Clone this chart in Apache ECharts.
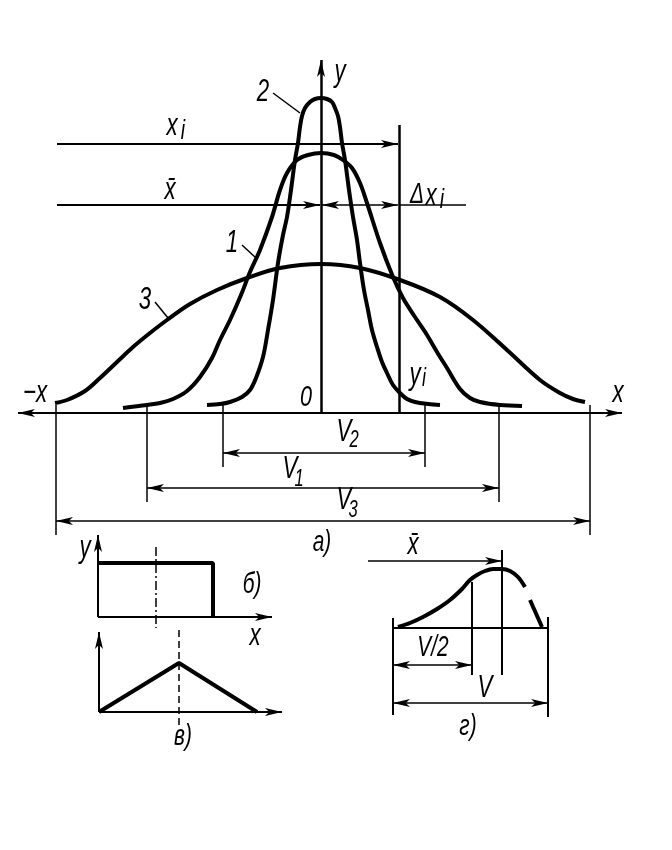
<!DOCTYPE html>
<html>
<head>
<meta charset="utf-8">
<style>
  html, body { margin: 0; background: #fff; }
  #main { width: 672px; height: 850px; }
</style>
<script src="https://cdn.jsdelivr.net/npm/echarts/dist/echarts.min.js"></script>
</head>
<body>
<div id="main"></div>
<script>
// figure a): units measured from the crossing of the axes, y up
const curve1 = [[-198,5],[-174,8],[-161,10],[-148,14],[-134,22],[-121,36],[-109,55],[-101,73],[-91,93],[-80,118],[-71,141],[-61,163],[-49,196],[-41,223],[-34,240],[-24,253],[-13,258],[0,260],[13,258],[22,253],[31,245],[39,230],[46,210],[59,170],[72,136],[82,115],[94,96],[106,78],[116,61],[126,45],[139,24],[149,15],[159,11],[179,8],[201,7]];
const curve2 = [[-114,8],[-101,9],[-91,11],[-79,16],[-71,23],[-65,35],[-58,56],[-53,83],[-48,113],[-43,150],[-38,178],[-34,196],[-30,223],[-26,253],[-23,270],[-21,286],[-19,297],[-16,305],[-11,311],[-6,314],[0,315],[6,314],[11,311],[14,305],[17,297],[19,286],[21,270],[24,253],[28,223],[32,196],[36,173],[39,150],[43,123],[47,103],[51,83],[56,66],[61,51],[66,40],[72,28],[79,20],[86,14],[94,11],[107,9],[119,8]];
const curve3 = [[-266,10],[-254,13],[-236,22],[-221,35],[-204,51],[-188,66],[-171,80],[-154,93],[-131,109],[-104,123],[-74,135],[-41,145],[0,149],[39,145],[79,133],[119,116],[152,93],[186,63],[219,33],[239,20],[252,14],[264,11]];

const xi = 78;           // position of the point x_i
const xiLevel = 269;     // height of the x_i arrow
const meanLevel = 208;   // height of the x-bar arrow
const yiTop = 288;
const spans = [          // name, left end, right end, arrow level, extension bottom
  ['V2', -98, 104, -40, -54],
  ['V1', -174, 178, -75, -89],
  ['V3', -265, 269, -108, -122]
];

// figure б): uniform law
const rectB = [[0,54],[115,54],[115,0]];
const centerB = 58;
// figure в): triangle law
const triV = [[0,0],[80,49],[158,0]];
// figure г): asymmetric curve
const curveG = [[5,1],[17,5],[30,11],[44,19],[57,28],[69,39],[77,48],[84,53],[92,57],[100,59],[109,59],[117,57],[125,51],[132,41]];
const tailG = [[137,28],[149,1]];
const widthG = 155, halfG = 79, meanG = 109;

// text: x, y (figure a units), text, size
const labels = [
  [19, 341, 'y', 31], [-58, 321, '2', 31],
  [-149, 287, 'x', 31], [-138, 282, 'i', 27],
  [-151, 223, 'x\u0304', 31],
  [96, 218, '\u0394', 29], [110, 217, 'x', 31], [121, 213, 'i', 27],
  [-89, 170, '1', 31], [-176, 113, '3', 31],
  [-286, 20, '\u2212x', 31], [-15, 15, '0', 30],
  [94, 38, 'y', 31], [103, 34, 'i', 25],
  [297, 20, 'x', 31],
  [23, -19, 'V', 31], [33, -28, '2', 23],
  [-31, -56, 'V', 31], [-22, -67, '1', 23],
  [23, -87, 'V', 31], [32, -98, '3', 23],
  [1, -130, '\u0430)', 29],
  [-236, -135, 'y', 31], [-69, -172, '\u0431)', 29], [-66, -223, 'x', 31],
  [-138, -324, '\u0432)', 29],
  [92, -132, 'x\u0304', 31], [112, -235, 'V/2', 29], [164, -275, 'V', 31], [147, -314, '\u0433)', 29]
];

const W = 672, H = 850;
// origins of the four figures on the page
const origins = [[321, 413], [98, 617], [99, 712], [393, 628]];

const grids = origins.map(() => ({ left: 0, top: 0, width: W, height: H }));
const xAxes = origins.map((o, i) => ({ type: 'value', gridIndex: i, min: -o[0], max: W - o[0], show: false }));
const yAxes = origins.map((o, i) => ({ type: 'value', gridIndex: i, min: o[1] - H, max: o[1], show: false }));

const ARROW = [6, 17];

function curve(g, data, width, extra) {
  return Object.assign({
    type: 'line', xAxisIndex: g, yAxisIndex: g, data: data, smooth: 0.35,
    symbol: 'none', silent: true, animation: false,
    lineStyle: { color: '#000', width: width }
  }, extra || {});
}

function segs(g, list, width, ends, extraStyle) {
  return {
    type: 'lines', coordinateSystem: 'cartesian2d', xAxisIndex: g, yAxisIndex: g,
    symbol: ends, symbolSize: [ARROW, ARROW], silent: true, animation: false,
    lineStyle: Object.assign({ color: '#000', width: width, opacity: 1 }, extraStyle || {}),
    data: list.map(c => ({ coords: c }))
  };
}

const series = [
  curve(0, curve1, 4), curve(0, curve2, 4), curve(0, curve3, 4),
  // axes
  segs(0, [[[-303, 0], [301, 0]]], 2, ['arrow', 'arrow']),
  segs(0, [[[0, 0], [0, 353]]], 2.5, ['none', 'arrow']),
  // x_i and x-bar
  segs(0, [[[-264, xiLevel], [xi - 1, xiLevel]], [[-264, meanLevel], [-1, meanLevel]]], 1.8, ['none', 'arrow']),
  segs(0, [[[1, meanLevel], [xi - 1, meanLevel]]].concat(spans.map(s => [[s[1], s[3]], [s[2], s[3]]])), 1.5, ['arrow', 'arrow']),
  segs(0, [[[xi, 0], [xi, yiTop]]], 2.5, ['none', 'none']),
  segs(0, [[[xi, meanLevel], [145, meanLevel]]].concat(
    spans.map(s => [[s[1], 8], [s[1], s[4]]]),
    spans.map(s => [[s[2], 8], [s[2], s[4]]]),
    [[[-48, 320], [-21, 300]], [[-79, 168], [-65, 155]], [[-166, 111], [-153, 95]]]
  ), 1.5, ['none', 'none']),

  // б)
  segs(1, [[[0, 0], [0, 82]], [[0, 0], [174, 0]]], 2, ['none', 'arrow']),
  curve(1, rectB, 4, { smooth: false }),
  segs(1, [[[centerB, 70], [centerB, -11]]], 1.5, ['none', 'none'], { type: [9, 3, 2, 3] }),

  // в)
  segs(2, [[[0, 0], [0, 80]], [[0, 0], [183, 0]]], 2, ['none', 'arrow']),
  curve(2, triV, 4, { smooth: false }),
  segs(2, [[[80, 82], [80, -15]]], 1.5, ['none', 'none'], { type: [7, 4] }),

  // г)
  curve(3, curveG, 4),
  curve(3, tailG, 4, { smooth: false }),
  segs(3, [[[0, 0], [widthG, 0]], [[0, 10], [0, -87]], [[widthG, 11], [widthG, -89]],
           [[halfG, 46], [halfG, -47]], [[meanG, 78], [meanG, -47]]], 2, ['none', 'none']),
  segs(3, [[[-25, 67], [meanG, 67]]], 1.5, ['none', 'arrow']),
  segs(3, [[[0, -37], [halfG, -37]], [[0, -75], [widthG, -75]]], 1.5, ['arrow', 'arrow'])
];

const chart = echarts.init(document.getElementById('main'), null, { renderer: 'canvas' });
chart.setOption({
  backgroundColor: '#fff',
  animation: false,
  grid: grids, xAxis: xAxes, yAxis: yAxes,
  series: series
});

chart.setOption({
  graphic: labels.map(l => {
    const p = chart.convertToPixel({ gridIndex: 0 }, [l[0], l[1]]);
    return {
      type: 'text', x: p[0], y: p[1], scaleX: 0.72, silent: true,
      style: {
        text: l[2], fill: '#000', align: 'center', verticalAlign: 'middle',
        font: 'italic ' + l[3] + 'px "Liberation Sans", "DejaVu Sans", sans-serif'
      }
    };
  })
});
</script>
</body>
</html>
